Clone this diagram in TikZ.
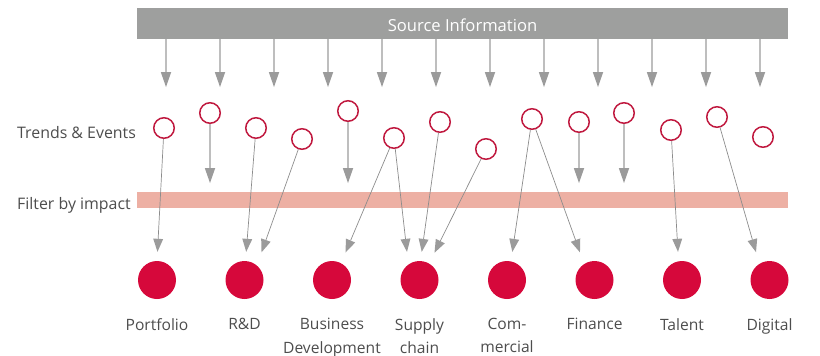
\documentclass[tikz,border=0pt]{standalone}
\usepackage{fontspec}
\setmainfont{Open Sans}
\definecolor{srcgray}{RGB}{158, 159, 158}
\definecolor{filterpink}{RGB}{237, 176, 164}
\definecolor{impactred}{RGB}{214, 8, 59}
\definecolor{ringred}{RGB}{192, 25, 63}
\definecolor{txtgray}{RGB}{77, 77, 77}
\definecolor{shaftgray}{RGB}{190, 190, 190}
\definecolor{headgray}{RGB}{155, 155, 155}
\definecolor{linkgray}{RGB}{140, 140, 140}
\usetikzlibrary{arrows.meta, positioning, calc}

\begin{document}
\begin{tikzpicture}[x=1pt, y=-1pt,
  trend/.style={circle, draw=ringred, line width=1.5pt, fill=white, minimum size=20.5pt, inner sep=0pt},
  impact/.style={circle, fill=impactred, minimum size=38pt, inner sep=0pt},
  feed/.style={draw=shaftgray, line width=1.6pt, -{Triangle[length=15pt, width=10.5pt, color=headgray, line width=0pt]}},
  link/.style={draw=linkgray, line width=0.7pt, shorten >=9pt, -{Triangle[length=13pt, width=10pt, color=headgray, line width=0pt]}},
  rowlabel/.style={anchor=base west, inner sep=0pt, text=txtgray, font=\fontsize{15.9}{19}\selectfont},
  unitlabel/.style={anchor=north, align=center, inner sep=0pt, text=txtgray, font=\fontsize{15.6}{23.5}\selectfont}]
  \useasboundingbox (0, 0) rectangle (820, 356);

  % Source information bar
  \node[fill=srcgray, minimum width=651pt, minimum height=31pt, inner sep=0pt, text=white,
        text height=15pt, text depth=0pt, font=\fontsize{16.6}{19}\selectfont] (src) at (462.5, 23.5) {Source Information};
  \foreach \i in {0,...,11} {
    \coordinate (s\i) at (166+54*\i, 87);
    \draw[feed] (src.south -| s\i) -- (s\i);
  }

  % Filter bar
  \node[fill=filterpink, minimum width=651pt, minimum height=16pt, inner sep=0pt] (filter) at (462.5, 200) {};

  % Row labels
  \node[rowlabel] (trendlabel) at (17, 138) {Trends \& Events};
  \node[rowlabel] (filterlabel) at (17, 209) {Filter by impact};

  % Trends & events
  \foreach \n/\x/\y in {1/164/128, 2/210/113, 3/256/128, 4/302/139, 5/348/111, 6/394/138, 7/440/122,
                        8/486/149, 9/532/119, 10/579/122, 11/624/113, 12/671/130, 13/717/117, 14/763/137}
    \node[trend] (t\n) at (\x, \y) {};

  % Stopped by the filter
  \foreach \n in {2, 5, 10, 11} {
    \coordinate (f\n) at (t\n |- 0,183);
    \draw[feed] (t\n) -- (f\n);
  }

  % Impact areas
  \foreach \name/\txt [count=\i from 0] in {portfolio/Portfolio, rnd/R\&D, bizdev/Business\\Development,
      supply/Supply\\chain, commercial/Com-\\mercial, finance/Finance, talent/Talent, digital/Digital} {
    \node[impact] (\name) at (157+87.5*\i, 280) {};
    \node[unitlabel] (\name-label) at (157+87.5*\i, 318) {\txt};
  }

  % Passing the filter
  \draw[link] (t1) -- (portfolio.north);
  \draw[link] (t3) -- ([xshift=1pt]rnd.north);
  \draw[link] (t4) -- ([xshift=14pt]rnd.north);
  \draw[link] (t6) -- ([xshift=10pt]bizdev.north);
  \draw[link] (t6) -- ([xshift=-11.5pt]supply.north);
  \draw[link] (t7) -- ([xshift=1pt]supply.north);
  \draw[link] (t8) -- ([xshift=11pt]supply.north);
  \draw[link] (t9) -- ([xshift=4pt]commercial.north);
  \draw[link] (t9) -- ([xshift=-11.5pt]finance.north);
  \draw[link] (t12) -- ([xshift=-3.5pt]talent.north);
  \draw[link] (t13) -- ([xshift=-11pt]digital.north);
\end{tikzpicture}
\end{document}
